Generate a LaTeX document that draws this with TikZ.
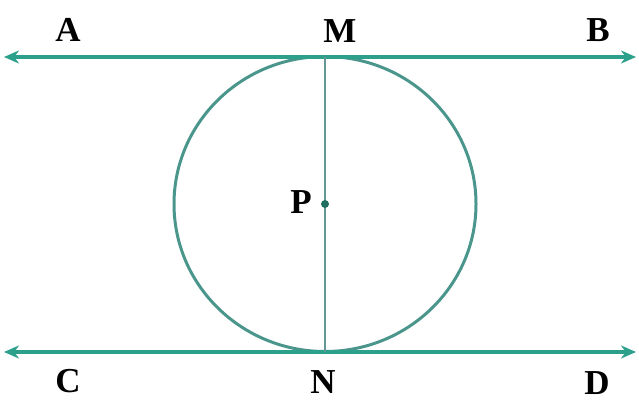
\documentclass[tikz,border=0pt]{standalone}
\usepackage{fontspec}
\setmainfont{Liberation Serif}
\usetikzlibrary{arrows.meta}
\definecolor{lineteal}{RGB}{45,160,140}
\definecolor{circteal}{RGB}{75,150,140}
\definecolor{vertteal}{RGB}{100,150,150}
\tikzset{
  lbl/.style={font=\fontsize{35}{35}\selectfont\bfseries, text=black, inner sep=0pt},
  tline/.style={draw=lineteal, line width=3.4pt, {Stealth[length=15pt,width=13pt]}-{Stealth[length=15pt,width=13pt]}},
}
\begin{document}
\begin{tikzpicture}[x=1pt,y=1pt]
\useasboundingbox (0,0) rectangle (639,402);
% endpoints
\coordinate (L1) at (4,345);
\coordinate (R1) at (636,345);
\coordinate (L2) at (4,50);
\coordinate (R2) at (636,50);
\coordinate (Mp) at (325,345);
\coordinate (Np) at (325,50);
\coordinate (Pc) at (325,198);
% circle
\draw[draw=circteal, line width=3pt] (Pc) ellipse [x radius=151, y radius=147.5];
% lines
\draw[tline] (L1) -- (R1);
\draw[tline] (L2) -- (R2);
\draw[draw=vertteal, line width=2.8pt] (Mp) -- (Np);
\fill[fill=lineteal!70!black] (Pc) circle (4);
% labels
\node[lbl] (A) at (68,372) {A};
\node[lbl] (M) at (340,371) {M};
\node[lbl] (B) at (598,372) {B};
\node[lbl] (P) at (301,200) {P};
\node[lbl] (C) at (68,21) {C};
\node[lbl] (N) at (323,20) {N};
\node[lbl] (D) at (597,19) {D};
\end{tikzpicture}
\end{document}
